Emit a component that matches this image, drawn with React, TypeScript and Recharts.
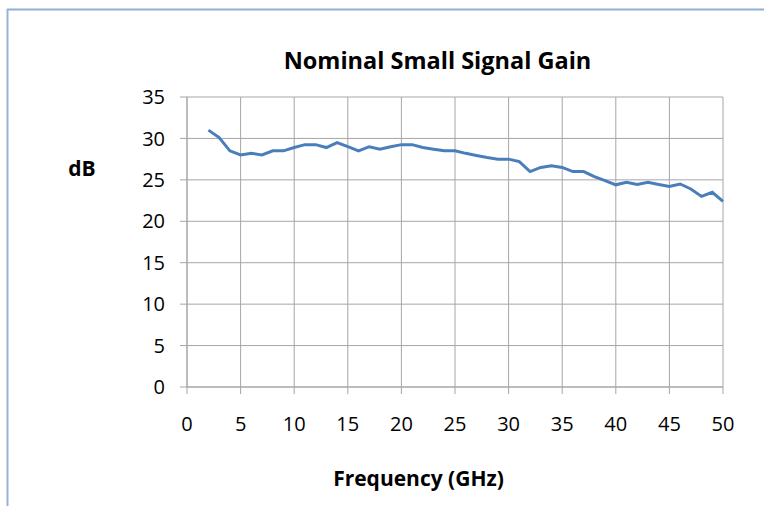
import { LineChart, Line, XAxis, YAxis, CartesianGrid } from 'recharts';

// frequency in GHz, gain in dB
const freqGHz = [
  2, 3, 4, 5, 6, 7, 8, 9, 10, 11, 12, 13, 14, 15, 16, 17, 18, 19, 20, 21, 22, 23, 24, 25, 26,
  27, 28, 29, 30, 31, 32, 33, 34, 35, 36, 37, 38, 39, 40, 41, 42, 43, 44, 45, 46, 47, 48, 49, 50,
];
const gainDb = [
  31.0, 30.1, 28.5, 28.0, 28.2, 28.0, 28.5, 28.5, 28.9, 29.25, 29.25, 28.9, 29.5, 29.0, 28.5,
  29.0, 28.7, 29.0, 29.25, 29.25, 28.9, 28.7, 28.5, 28.5, 28.2, 27.95, 27.7, 27.5, 27.5, 27.2,
  26.0, 26.5, 26.7, 26.5, 26.0, 26.0, 25.4, 24.9, 24.4, 24.7, 24.45, 24.7, 24.45, 24.2, 24.5,
  23.9, 23.0, 23.5, 22.4,
];
const xTicks = [0, 5, 10, 15, 20, 25, 30, 35, 40, 45, 50];
const yTicks = [0, 5, 10, 15, 20, 25, 30, 35];

const chartTitle = 'Nominal Small Signal Gain';
const xTitle = 'Frequency (GHz)';
const yTitle = 'dB';

const FONT = '"Open Sans", sans-serif';
const GRID = '#a6a6a6';

export default function App() {
  const data = freqGHz.map((f, i) => ({ freq: f, gain: gainDb[i] }));

  return (
    <div style={{ position: 'absolute', left: 0, top: 0, width: 764, height: 506, background: '#fff' }}>
      <LineChart width={764} height={506} data={data} margin={{ top: 97, right: 41, bottom: 89, left: 127 }}>
        <CartesianGrid stroke={GRID} strokeWidth={1} />
        <XAxis
          dataKey="freq"
          type="number"
          domain={[0, 50]}
          ticks={xTicks}
          interval={0}
          height={30}
          tickSize={7}
          tickMargin={23}
          stroke={GRID}
          tick={{ fill: '#000', fontSize: 20, fontFamily: FONT }}
        />
        <YAxis
          type="number"
          domain={[0, 35]}
          ticks={yTicks}
          interval={0}
          width={60}
          tickSize={7}
          tickMargin={15}
          stroke={GRID}
          tick={{ fill: '#000', fontSize: 20, fontFamily: FONT }}
        />
        <Line
          type="linear"
          dataKey="gain"
          stroke="#4a7ebb"
          strokeWidth={3}
          dot={false}
          isAnimationActive={false}
        />
      </LineChart>
      <svg
        width={764}
        height={506}
        style={{ position: 'absolute', left: 0, top: 0, pointerEvents: 'none' }}
      >
        <line x1={7} y1={9.5} x2={764} y2={9.5} stroke="#8fafd5" strokeWidth={2} />
        <line x1={7.5} y1={9} x2={7.5} y2={506} stroke="#95b3d7" strokeWidth={2} />
        <text x={437.5} y={69} textAnchor="middle" fontFamily={FONT} fontWeight="bold" fontSize={23.5} fill="#000">
          {chartTitle}
        </text>
        <text x={82} y={176} textAnchor="middle" fontFamily={FONT} fontWeight="bold" fontSize={21} fill="#000">
          {yTitle}
        </text>
        <text x={418.5} y={486} textAnchor="middle" fontFamily={FONT} fontWeight="bold" fontSize={21} fill="#000">
          {xTitle}
        </text>
      </svg>
    </div>
  );
}
